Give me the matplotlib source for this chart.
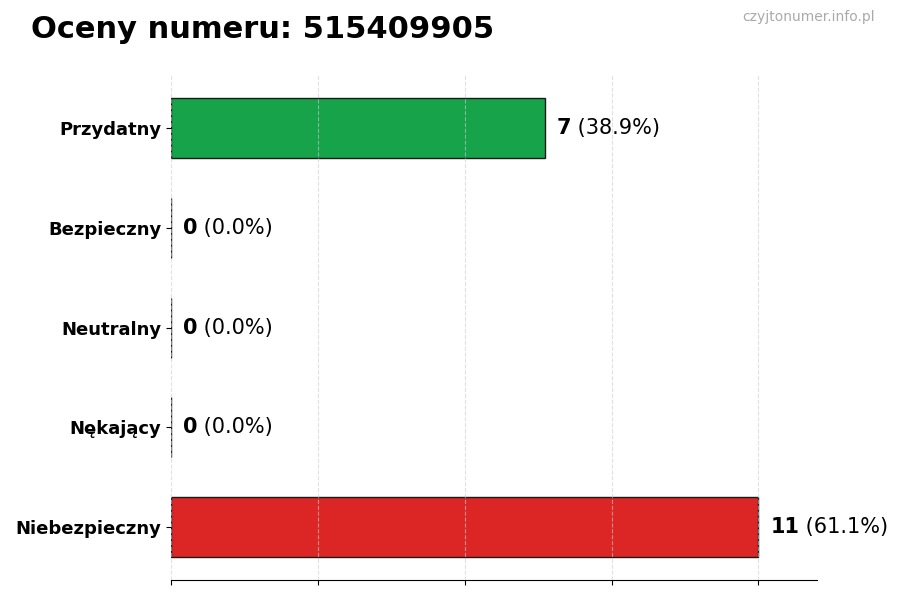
import numpy as np
import matplotlib
matplotlib.use("Agg")
import matplotlib.pyplot as plt

# ratings for the number
categories = ["Przydatny", "Bezpieczny", "Neutralny", "Nękający", "Niebezpieczny"]
counts = [7, 0, 0, 0, 11]
colors = ["#16a34a", "#22c55e", "#9ca3af", "#f97316", "#dc2626"]
title = "Oceny numeru: 515409905"
watermark = "czyjtonumer.info.pl"

total = sum(counts)
vmax = max(counts)

fig = plt.figure(figsize=(9, 6), dpi=100)
ax = fig.add_axes([0.19, 0.033, 0.718, 0.842])

y = np.arange(len(categories))[::-1]
ax.barh(y, counts, height=0.6, color=colors, edgecolor="#1a1a1a", linewidth=1, zorder=2)

ax.set_yticks(y)
ax.set_yticklabels(categories, fontsize=13, fontweight="bold")
ax.set_xlim(0, vmax * 1.1)
ax.set_xticks(np.linspace(0, vmax, 5))
ax.set_xticklabels([])
ax.grid(axis="x", linestyle="--", color="#cccccc", alpha=0.6, zorder=3)
ax.set_axisbelow(False)

for s in ["top", "right", "left"]:
    ax.spines[s].set_visible(False)

for yi, c in zip(y, counts):
    pct = c / total * 100
    t = ax.text(c + vmax * 0.02, yi, str(c), fontsize=15, fontweight="bold",
                va="center", ha="left")
    ax.annotate(" (%.1f%%)" % pct, xy=(1, 0), xycoords=t, va="bottom",
                ha="left", fontsize=15)

fig.text(0.034, 0.95, title, fontsize=22, fontweight="bold", va="center", ha="left")
fig.text(0.972, 0.972, watermark, fontsize=10, color="#aaaaaa", va="center", ha="right")

fig.savefig("out.png", dpi=100)
